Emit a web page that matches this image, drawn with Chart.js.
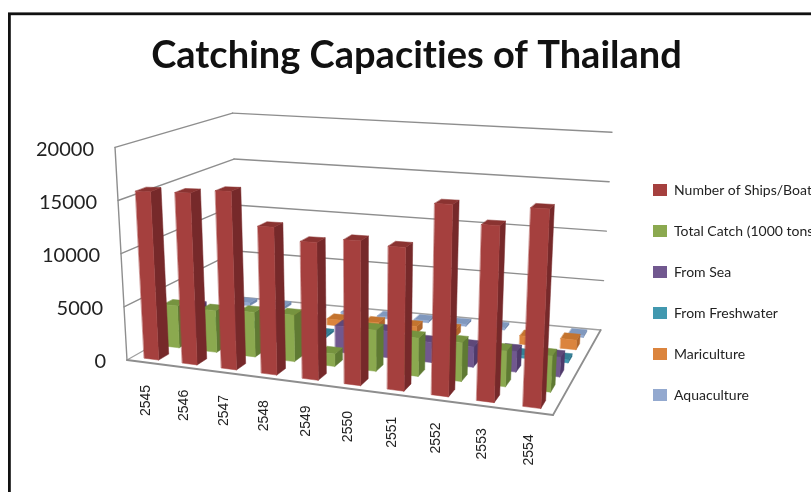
<!DOCTYPE html>
<html><head><meta charset="utf-8">
<style>html,body{margin:0;padding:0;background:#fff}#w{width:811px;height:492px;position:relative}</style>
<script src="https://cdn.jsdelivr.net/npm/chart.js@4"></script></head>
<body><div id="w"><canvas id="c" width="811" height="492"></canvas></div>
<script>
const categories=['2545','2546','2547','2548','2549','2550','2551','2552','2553','2554'];
const seriesNames=['Number of Ships/Boats','Total Catch (1000 tons)','From Sea','From Freshwater','Mariculture','Aquaculture'];
const ships=[15700,15700,16000,13000,11900,12300,12000,15800,14300,15900];
const totalCatch=[4000,3900,4100,4200,1100,3600,3300,3300,3000,3000];
const fromSea=[2900,2900,2800,2700,2400,2400,1800,1800,1800,1700];
const fromFreshwater=[250,250,250,250,250,250,250,250,250,250];
const mariculture=[500,500,550,600,700,700,750,750,800,900];
const aquaculture=[300,300,250,250,200,200,200,200,200,200];
const yTicks=[0,5000,10000,15000,20000];
const colors=['#A5403E','#8BA94F','#71588F','#4198AF','#DB843D','#93A9CF'];
const sideColors=['#76292A','#5F7A33','#4F3A6B','#2B7188','#B0652A','#6F86AD'];
const topColors=['#8A3331','#76933F','#5F4879','#357F95','#C4742F','#8098BE'];

const floorQuad=[[127,360],[553,415],[600.7,330],[238,297]];
const cornerHeights=[213,255,198,184];
const VP=[361.5,4522];
function homography(q){
  const [p0,p1,p2,p3]=q;
  const dx1=p1[0]-p2[0],dx2=p3[0]-p2[0],sx=p0[0]-p1[0]+p2[0]-p3[0];
  const dy1=p1[1]-p2[1],dy2=p3[1]-p2[1],sy=p0[1]-p1[1]+p2[1]-p3[1];
  const d=dx1*dy2-dx2*dy1;
  const g=(sx*dy2-dx2*sy)/d,h=(dx1*sy-sx*dy1)/d;
  const a=p1[0]-p0[0]+g*p1[0],b=p3[0]-p0[0]+h*p3[0],c=p0[0];
  const e=p1[1]-p0[1]+g*p1[1],f=p3[1]-p0[1]+h*p3[1],k=p0[1];
  return (u,w)=>{const z=g*u+h*w+1;return [(a*u+b*w+c)/z,(e*u+f*w+k)/z];};
}
const hF=homography(floorQuad);
function P(u0,w,v){
  const u=u0+.077*u0*(1-u0);
  const F=hF(u,w);
  const dx=F[0]-VP[0],dy=F[1]-VP[1],len=Math.hypot(dx,dy);
  const [a,b,c,d]=cornerHeights;
  const H=a*(1-u)*(1-w)+b*u*(1-w)+c*u*w+d*(1-u)*w;
  return [F[0]+dx/len*H*v,F[1]+dy/len*H*v];
}
function poly(ctx,pts,fill){ctx.beginPath();pts.forEach((p,i)=>i?ctx.lineTo(p[0],p[1]):ctx.moveTo(p[0],p[1]));ctx.closePath();if(fill){ctx.fillStyle=fill;ctx.strokeStyle=fill;ctx.lineWidth=.5;ctx.fill();ctx.stroke();}}
function line(ctx,a,b,col,lw){ctx.beginPath();ctx.moveTo(a[0],a[1]);ctx.lineTo(b[0],b[1]);ctx.strokeStyle=col;ctx.lineWidth=lw;ctx.stroke();}

const BAR_DEPTH=0.08;
const scene={id:'scene',
  afterLayout(chart){
    const l=chart.legend;l.left=626;l.right=811;l.top=156;l.bottom=492;l.width=185;l.height=336;
    const t=chart.titleBlock;t.left=22;t.right=811;t.width=789;
  },
  beforeDraw(chart){
    const ctx=chart.ctx;ctx.save();ctx.strokeStyle='#111';ctx.lineWidth=2.8;
    ctx.strokeRect(9.4,13.8,900,600);ctx.restore();
    ctx.letterSpacing='0.01px';
  },
  beforeDatasetsDraw(chart){
    const ctx=chart.ctx,xs=chart.scales.x,ys=chart.scales.y,a=chart.chartArea;
    const norm=v=>(a.bottom-ys.getPixelForValue(v))/(a.bottom-a.top);
    ctx.save();ctx.lineCap='round';ctx.lineJoin='round';
    const grid='#8E8E8E';
    ys.ticks.forEach(t=>{
      const h=norm(t.value);
      if(h>0){line(ctx,P(0,0,h),P(0,1,h),grid,1.4);line(ctx,P(0,1,h),P(1,1,h),grid,1.4);}
    });
    line(ctx,P(0,0,0),P(0,0,1),grid,1.4);
    line(ctx,P(0,1,0),P(1,1,0),'#A0A0A0',1.3);
    line(ctx,P(0,0,0),P(0,1,0),'#A0A0A0',1.3);
    line(ctx,P(1,0,0),P(1,1,0),'#8E8E8E',1.8);
    line(ctx,P(0,0,0),P(1,0,0),'#8E8E8E',1.8);
    const n=chart.data.datasets.length;
    for(let r=n-1;r>=0;r--){
      const els=chart.getDatasetMeta(r).data;
      els.forEach(el=>{
        const p=el.getProps(['x','y','base','width'],true);
        const uc=(p.x-a.left)/(a.right-a.left),uw=p.width/(a.right-a.left)/2;
        const w0=(r+.5)/n-BAR_DEPTH/2,w1=w0+BAR_DEPTH;
        const v=(a.bottom-p.y)/(a.bottom-a.top),b=(a.bottom-p.base)/(a.bottom-a.top);
        const u0=uc-uw,u1=uc+uw;
        poly(ctx,[P(u1,w0,b),P(u1,w1,b),P(u1,w1,v),P(u1,w0,v)],sideColors[r]);
        poly(ctx,[P(u0,w0,v),P(u1,w0,v),P(u1,w1,v),P(u0,w1,v)],topColors[r]);
        poly(ctx,[P(u0,w0,b),P(u1,w0,b),P(u1,w0,v),P(u0,w0,v)],colors[r]);
      });
    }
    ctx.fillStyle='#222';ctx.textBaseline='middle';
    ctx.font='20px Lato';ctx.textAlign='right';
    ys.ticks.forEach(t=>{
      const q=P(0,0,norm(t.value));
      ctx.fillText(String(t.value),q[0]-21,q[1]+2);
    });
    ctx.font='14px "Liberation Sans"';ctx.textAlign='center';
    categories.forEach((c,i)=>{
      const q=P((xs.getPixelForValue(i)-a.left)/(a.right-a.left),0,0);
      ctx.save();ctx.translate(q[0],q[1]+38);ctx.rotate(-Math.PI/2);ctx.fillText(c,0,0);ctx.restore();
    });
    ctx.restore();
    return false;
  }};
const values=[ships,totalCatch,fromSea,fromFreshwater,mariculture,aquaculture];
new Chart(document.getElementById('c'),{
  type:'bar',
  data:{labels:categories,datasets:seriesNames.map((s,i)=>({label:s,data:values[i],backgroundColor:colors[i],borderWidth:0,grouped:false,barPercentage:.38,categoryPercentage:1}))},
  options:{responsive:false,animation:false,
    layout:{padding:0},
    plugins:{
      title:{display:true,text:'Catching Capacities of Thailand',color:'#111',font:{family:'Lato',size:38,weight:'bold'},padding:{top:33,bottom:10}},
      legend:{position:'right',align:'start',labels:{boxWidth:14,boxHeight:12,padding:27,color:'#222',font:{family:'Lato',size:14}}},
      tooltip:{enabled:false}},
    scales:{
      x:{offset:true,ticks:{display:false,autoSkip:false},grid:{display:false},border:{display:false}},
      y:{min:0,max:20000,afterBuildTicks(s){s.ticks=yTicks.map(v=>({value:v}));},ticks:{display:false},grid:{display:false},border:{display:false}}
    }
  },
  plugins:[scene]
});
</script></body></html>
